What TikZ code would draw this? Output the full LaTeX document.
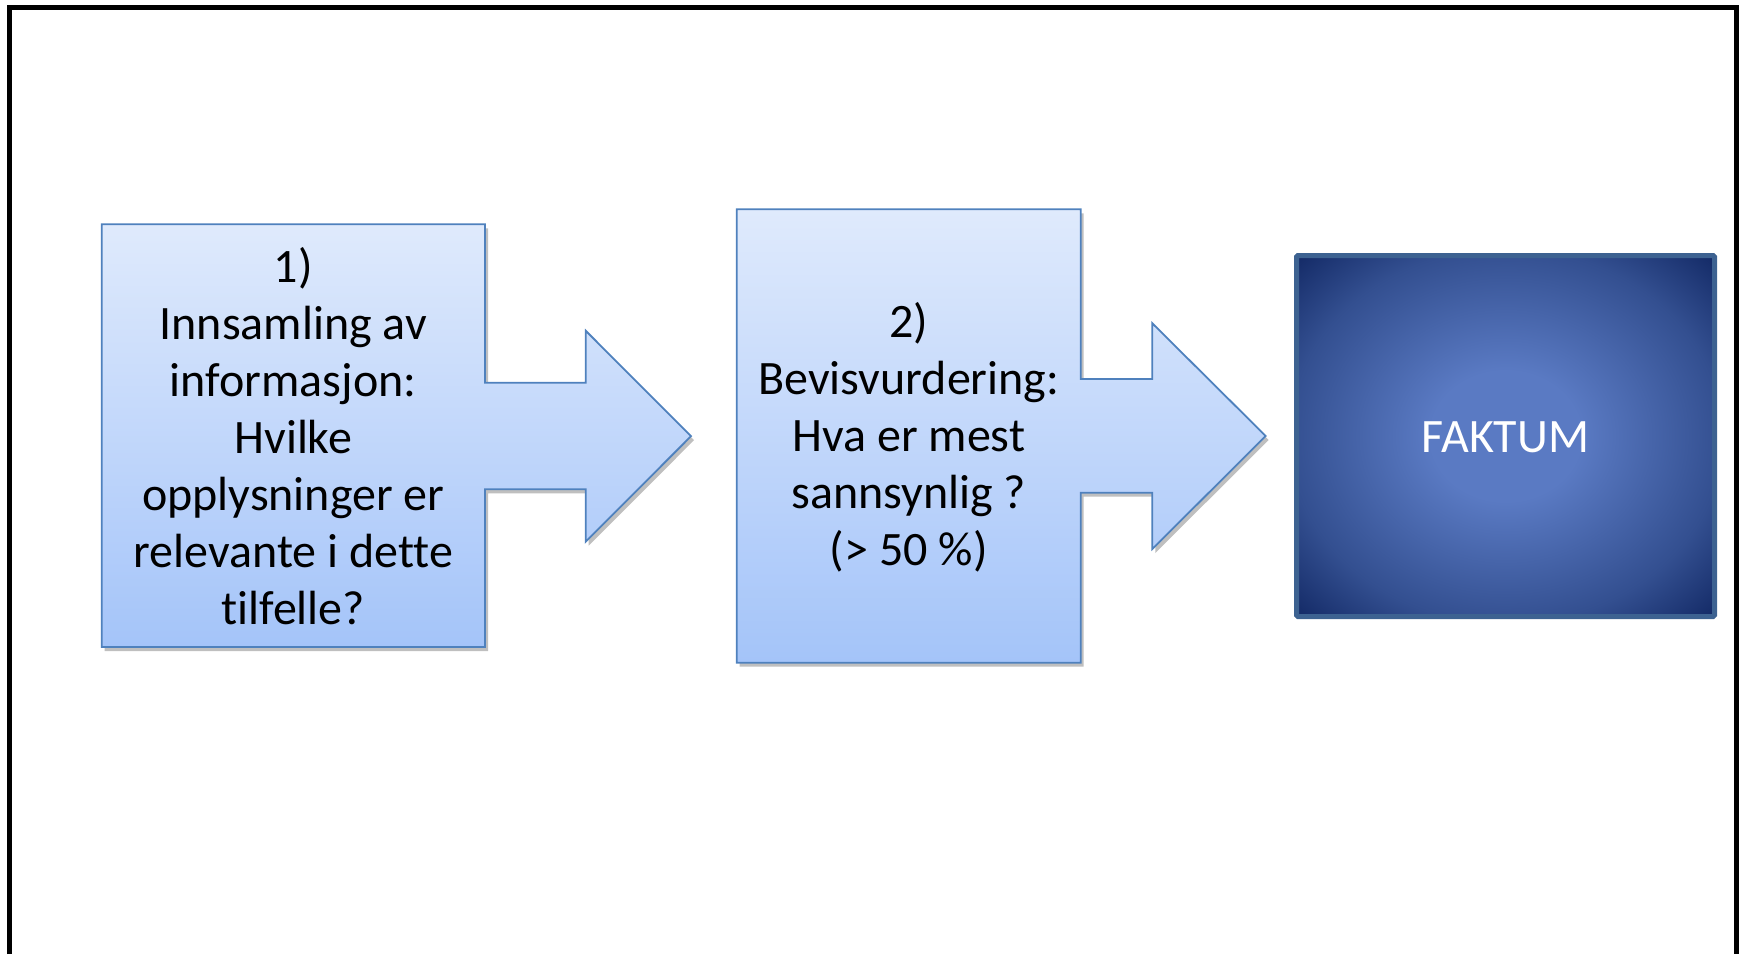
\documentclass[tikz,border=0pt]{standalone}
\usepackage{fontspec}
\setmainfont{Carlito}[Ligatures=NoCommon]
\usetikzlibrary{shadows}

\definecolor{calltop}{HTML}{DFEAFC}
\definecolor{callbot}{HTML}{A4C4F9}
\definecolor{callline}{HTML}{4F81BD}
\definecolor{factin}{HTML}{5A7AC3}
\definecolor{factmid}{HTML}{334F90}
\definecolor{factout}{HTML}{112763}
\definecolor{factline}{HTML}{3D6291}

\pgfdeclareradialshading{factglow}{\pgfpoint{0bp}{0bp}}{%
  color(0bp)=(factin); color(9bp)=(factin); color(26bp)=(factmid);
  color(36bp)=(factout); color(50bp)=(factout)}

\tikzset{
  callout/.style={draw=callline, line width=1.8pt, line join=miter,
    top color=calltop, bottom color=callbot,
    drop shadow={shadow xshift=3pt, shadow yshift=-4pt, opacity=0.25, fill=black}},
  steptext/.style={align=center, font=\fontsize{48}{57}\selectfont, text=black},
}

\begin{document}
\begin{tikzpicture}[x=1pt,y=-1pt]
\useasboundingbox (0,0) rectangle (1741,954);

% frame, open at the bottom
\draw[line width=5pt, line join=miter] (9.2,954) -- (9.2,7.2) -- (1736.5,7.2) -- (1736.5,954);

% step 1 with its arrow
\path[callout] (101.7,224.3) -- (485,224.3) -- (485,382.7) -- (585.7,382.7) -- (585.7,330.7)
  -- (691,436.2) -- (585.7,541.7) -- (585.7,489.3) -- (485,489.3) -- (485,647) -- (101.7,647) -- cycle;
\node[steptext] (innsamling) at (293.3,436) {1)\\Innsamling av\\informasjon:\\Hvilke\\opplysninger er\\relevante i dette\\tilfelle?};

% step 2 with its arrow
\path[callout] (736.7,209.3) -- (1080.7,209.3) -- (1080.7,379) -- (1152.3,379) -- (1152.3,323.3)
  -- (1265.7,436) -- (1152.3,549) -- (1152.3,492.7) -- (1080.7,492.7) -- (1080.7,662.7) -- (736.7,662.7) -- cycle;
\node[steptext] (bevis) at (908.8,437) {2)\\Bevisvurdering:\\Hva er mest\\sannsynlig ?\\(> 50 \%)};

% result
\path[shading=factglow, draw=factline, line width=5pt, rounded corners=1.5pt] (1296.5,255.5) rectangle (1714.5,616.5);
\node[steptext, text=white] (faktum) at (1505.5,437) {FAKTUM};

\end{tikzpicture}
\end{document}
